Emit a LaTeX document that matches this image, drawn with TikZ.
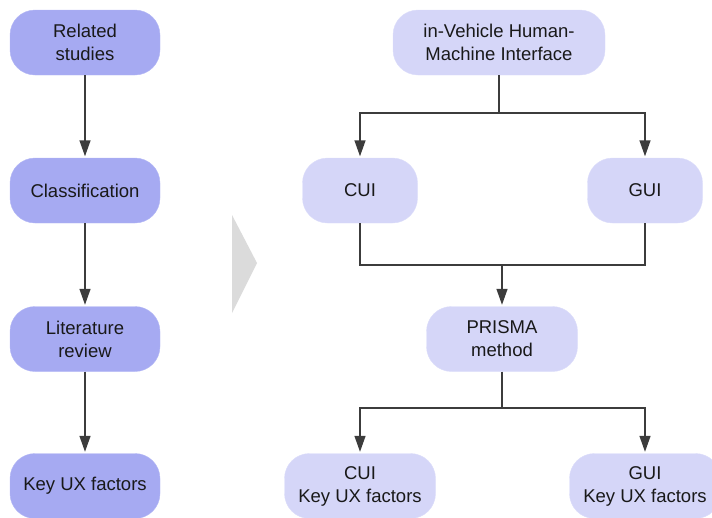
\documentclass[tikz,border=0pt]{standalone}
\usepackage{xcolor}
\usepackage{fontspec}
\setmainfont{Liberation Sans}
\usepackage{tikz}
\usetikzlibrary{positioning,shapes,arrows.meta}

\definecolor{darkbox}{HTML}{A6AAF2}
\definecolor{darkedge}{HTML}{B4B8F5}
\definecolor{lightbox}{HTML}{D5D6F8}
\definecolor{lightedge}{HTML}{DCDDFA}
\definecolor{linegray}{HTML}{3C3C3C}

\begin{document}
\begin{tikzpicture}[
			x=1pt, y=-1pt,
			every node/.style = {shape=rectangle, rounded corners=25pt,
				align=center, inner sep=0pt, minimum height=65pt,
				font=\fontsize{18.5}{23}\selectfont, text=black!90},
			leftbox/.style = {fill=darkbox, draw=darkedge, minimum width=150pt},
			rightbox/.style = {fill=lightbox, draw=lightedge},
			arr/.style = {draw=linegray, line width=1.4pt,
				-{Triangle[width=11pt,length=16pt]}, shorten >=1.5pt},
			conn/.style = {draw=linegray, line width=1.4pt}]
			\useasboundingbox (0,0) rectangle (712,517);
			% left column
			\node[leftbox] (related) at (85,42.5) {Related\\studies};
			\node[leftbox] (classif) at (85,190.5) {Classification};
			\node[leftbox] (litrev) at (85,339) {Literature\\review};
			\node[leftbox] (keyux) at (85,486) {Key UX factors};
			\draw[arr] (related) -- (classif);
			\draw[arr] (classif) -- (litrev);
			\draw[arr] (litrev) -- (keyux);
			% gray pointer
			\fill[black!14] (232,215) -- (257,263) -- (232,313) -- cycle;
			% right column
			\node[rightbox, minimum width=212pt] (ivhmi) at (499,42.5) {in-Vehicle Human-\\Machine Interface};
			\node[rightbox, minimum width=115pt] (cui) at (360,190.5) {CUI};
			\node[rightbox, minimum width=115pt] (gui) at (645,190.5) {GUI};
			\node[rightbox, minimum width=151pt] (prisma) at (502,339) {PRISMA\\method};
			\node[rightbox, minimum width=151pt] (cuiux) at (360,486) {CUI\\Key UX factors};
			\node[rightbox, minimum width=151pt] (guiux) at (645,486) {GUI\\Key UX factors};
			\coordinate (split1) at (499,113);
			\coordinate (join) at (502,265);
			\coordinate (split2) at (502,408);
			\draw[conn] (ivhmi) -- (split1);
			\draw[arr] (split1) -| (cui);
			\draw[arr] (split1) -| (gui);
			\draw[conn] (cui) |- (join);
			\draw[conn] (gui) |- (join);
			\draw[arr] (join) -- (prisma);
			\draw[conn] (prisma) -- (split2);
			\draw[arr] (split2) -| (cuiux);
			\draw[arr] (split2) -| (guiux);
\end{tikzpicture}
\end{document}
